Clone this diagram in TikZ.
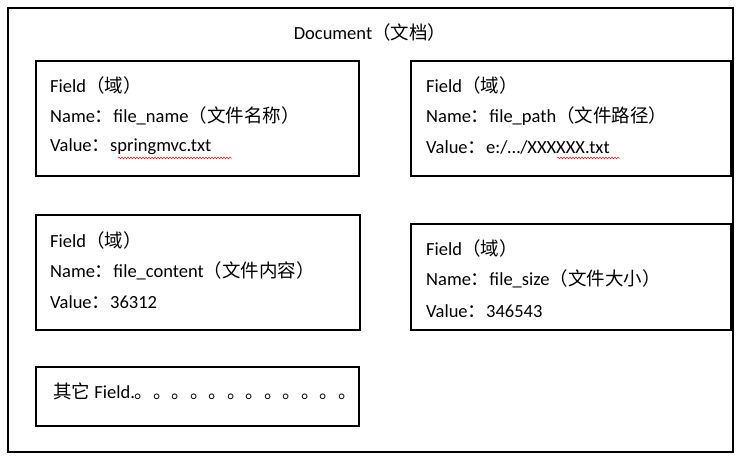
\documentclass[tikz,border=0pt]{standalone}
\usepackage{fontspec}
\setmainfont{Carlito}
\newfontfamily\cjk{Noto Sans CJK SC}
\usetikzlibrary{decorations.pathmorphing}
\begin{document}
\begin{tikzpicture}[x=1pt,y=-1pt]
    \tikzset{box/.style={draw, line width=1.2pt},
      txt/.style={anchor=west, inner sep=0pt, font=\fontsize{18.5}{21}\selectfont},
      typo/.style={red, line width=0.5pt, decorate, decoration={snake, amplitude=0.8pt, segment length=3pt}}}
    \useasboundingbox (0,0) rectangle (740,459);

    %Shape: outer document
    \draw [line width=1.2pt] (8,8) rectangle (733,452);
    \node [txt, anchor=center] (title) at (370,32) {Document{\cjk （文档）}};

    %Shape: field boxes
    \draw [box] (36,61) rectangle (359,176);
    \draw [box] (411,61) rectangle (731,176);
    \draw [box] (36,215) rectangle (360,330);
    \draw [box] (411,224) rectangle (731,330);
    \draw [box] (36,367) rectangle (359,426);

    % Text Node
    \node [txt] (f1a) at (50,85) {Field{\cjk （域）}};
    \node [txt] (f1b) at (50,116) {Name{\cjk ：}file\_name{\cjk （文件名称）}};
    \node [txt] (f1c) at (50,147) {Value{\cjk ：}springmvc.txt};
    % Text Node
    \node [txt] (f2a) at (426,85) {Field{\cjk （域）}};
    \node [txt] (f2b) at (426,116) {Name{\cjk ：}file\_path{\cjk （文件路径）}};
    \node [txt] (f2c) at (426,147) {Value{\cjk ：}e:/…/XXXXXX.txt};
    % Text Node
    \node [txt] (f3a) at (50,240) {Field{\cjk （域）}};
    \node [txt] (f3b) at (50,271) {Name{\cjk ：}file\_content{\cjk （文件内容）}};
    \node [txt] (f3c) at (50,302) {Value{\cjk ：}36312};
    % Text Node
    \node [txt] (f4a) at (426,248) {Field{\cjk （域）}};
    \node [txt] (f4b) at (426,279) {Name{\cjk ：}file\_size{\cjk （文件大小）}};
    \node [txt] (f4c) at (426,311) {Value{\cjk ：}346543};
    % Text Node
    \node [txt] (rest) at (53,391) {{\cjk 其它} Field.{\cjk 。。。。。。。。。。。。}};

    %spell marks
    \draw [typo] (118,158) -- (232,158);
    \draw [typo] (557,158) -- (620,158);
\end{tikzpicture}
\end{document}
